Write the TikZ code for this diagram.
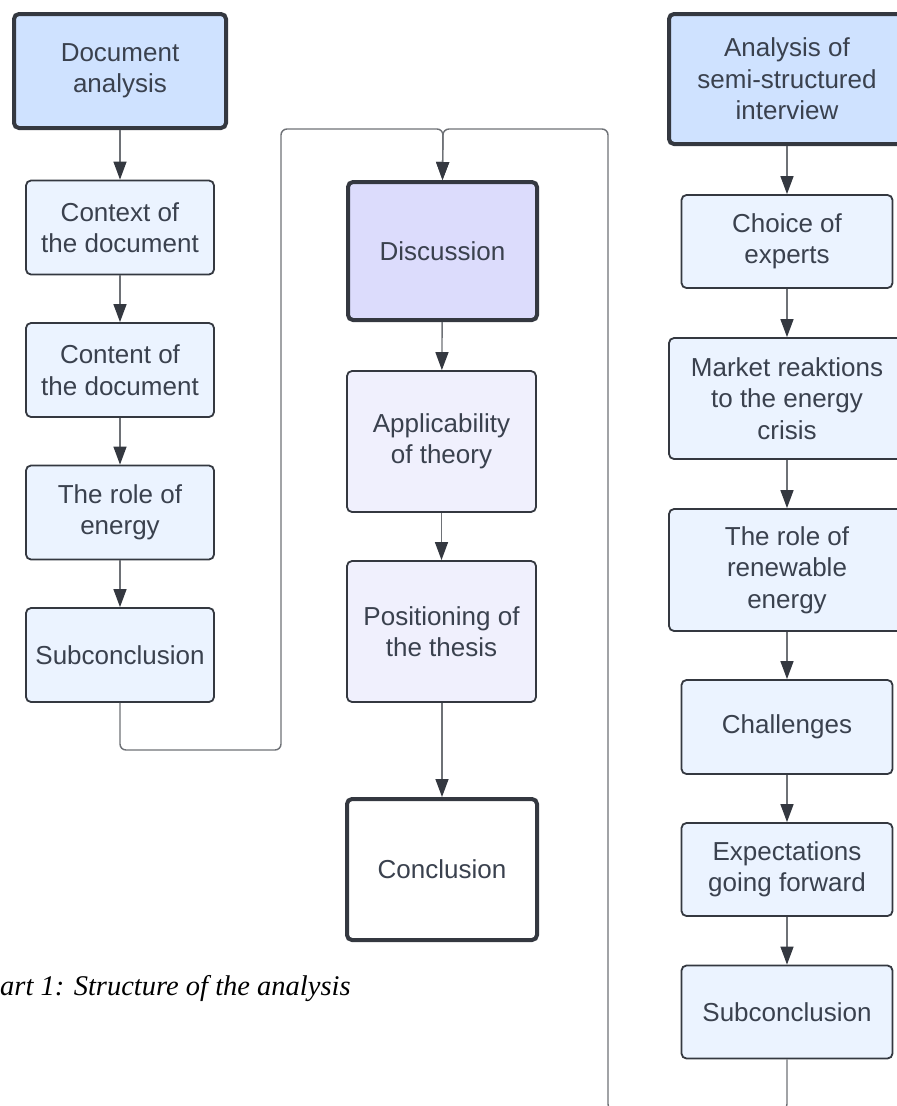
\documentclass[tikz,border=0pt]{standalone}
\usepackage{fontspec}
\setmainfont{Liberation Serif}
\newfontfamily\boxfont{Liberation Sans}
\usetikzlibrary{arrows.meta,positioning,calc}
\definecolor{headblue}{RGB}{207,226,255}
\definecolor{stepblue}{RGB}{235,243,255}
\definecolor{disccolor}{RGB}{220,220,252}
\definecolor{thycolor}{RGB}{240,240,253}
\definecolor{edgecolor}{RGB}{52,56,64}
\definecolor{txtcolor}{RGB}{58,65,78}
\definecolor{linkcolor}{RGB}{110,113,118}
\def\colL{120}
\def\colM{442.5}
\def\colR{787}
\tikzset{
  box/.style      = {rectangle, rounded corners=5pt, draw=edgecolor, text=txtcolor,
                     align=center, inner sep=0pt,
                     font=\boxfont\fontsize{26}{31.5}\selectfont},
  headbox/.style  = {box, line width=4pt, fill=headblue},
  stepbox/.style  = {box, line width=1.8pt, fill=stepblue},
  thybox/.style   = {box, line width=1.8pt, fill=thycolor},
  conn/.style     = {-{Triangle[length=18pt,width=13pt,color=edgecolor]},
                     line width=1.4pt, draw=linkcolor},
  loop/.style     = {conn, rounded corners=6pt},
  caption/.style  = {font=\itshape\fontsize{28.5}{33}\selectfont, inner sep=0pt}
}
\begin{document}
\begin{tikzpicture}[x=1pt,y=-1pt]
\useasboundingbox (0,0) rectangle (897,1106);
\clip (0,0) rectangle (897,1106);

% --- document analysis (left column) ---
\node[headbox, minimum width=212, minimum height=114] (dhead) at (\colL,71) {Document\\analysis};
\foreach \y/\txt [count=\i] in {227.5/{Context of\\the document}, 370/{Content of\\the document},
                                 512.5/{The role of\\energy}, 655/{Subconclusion}}{
  \node[stepbox, minimum width=188, minimum height=94] (l\i) at (\colL,\y) {\txt};
}

% --- discussion (middle column) ---
\node[headbox, fill=disccolor, minimum width=189, minimum height=138] (disc) at (\colM,251) {Discussion};
\node[thybox, minimum width=189, minimum height=141] (theory) at (441.5,441.5) {Applicability\\of theory};
\node[thybox, minimum width=189, minimum height=141] (thesis) at (441.5,631.5) {Positioning of\\the thesis};
\node[headbox, fill=white, minimum width=190, minimum height=141] (concl) at (442,869.5) {Conclusion};

% --- interview analysis (right column) ---
\node[headbox, minimum width=236, minimum height=130] (ihead) at (\colR,79) {Analysis of\\semi-structured\\interview};
\foreach \y/\w/\h/\txt [count=\i] in {241.5/211/93/{Choice of\\experts}, 398.5/236/121/{Market reaktions\\to the energy\\crisis},
                                      570/236/122/{The role of\\renewable\\energy}, 727/211/94/{Challenges},
                                      869.5/211/93/{Expectations\\going forward}, 1012/211/93/{Subconclusion}}{
  \node[stepbox, minimum width=\w, minimum height=\h] (r\i) at (\colR,\y) {\txt};
}

% --- straight arrows down each column ---
\draw[conn] (dhead) -- (l1);
\foreach \i [evaluate=\i as \j using int(\i+1)] in {1,2,3}{
  \draw[conn] (l\i) -- (l\j);
}
\draw[conn] (ihead) -- (r1);
\foreach \i [evaluate=\i as \j using int(\i+1)] in {1,...,5}{
  \draw[conn] (r\i) -- (r\j);
}
\draw[conn] (disc) -- (theory);
\draw[conn] (theory) -- (thesis);
\draw[conn] (thesis.south -| concl.north) -- (concl);

% --- both subconclusions loop into the discussion ---
\coordinate (join) at (443,129);
\draw[loop] (l4.south) |- (281,750) |- (join) -- (disc.north);
\draw[loop] (r6.south) |- (608,1110) |- (join) -- (disc.north);

% --- caption (cut at the left edge) ---
\node[caption, anchor=base west] (cap) at (0,995) {art 1: Structure of the analysis};

\end{tikzpicture}
\end{document}
